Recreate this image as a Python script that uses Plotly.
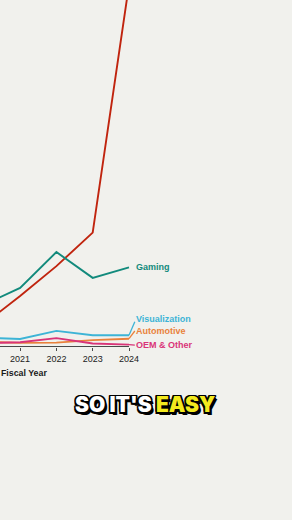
import plotly.graph_objects as go

# ---- data (NVIDIA revenue by market, $B, fiscal years) ----
years = [2020, 2021, 2022, 2023, 2024]
data_center = [2.98, 6.70, 10.61, 15.01, 47.53]
gaming = [5.52, 7.76, 12.46, 9.07, 10.45]
visualization = [1.21, 1.05, 2.11, 1.54, 1.55]
automotive = [0.70, 0.54, 0.57, 0.90, 1.09]
oem_other = [0.51, 0.63, 1.16, 0.46, 0.31]
tick_labels = ["2021", "2022", "2023", "2024"]

series_names = ["Data Center", "Gaming", "Visualization", "Automotive", "OEM & Other"]
series_values = [data_center, gaming, visualization, automotive, oem_other]
series_colors = ["#c0240e", "#128a7c", "#3db4d6", "#e9813c", "#d93478"]

# label placement (style, not data)
label_x = 2024.14
label_y = {"Gaming": 10.5, "Visualization": 3.7, "Automotive": 2.15, "OEM & Other": 0.2}
leader_end = {"Visualization": 3.3, "Automotive": 2.1, "OEM & Other": 0.25}

BG = "#f1f1ed"
W, H = 292, 520
px_per_year = 36.3
x0 = 2024 - 129 / px_per_year
x1 = x0 + W / px_per_year
plot_h = 347
y_top = plot_h / 7.62

fig = go.Figure()
for name, vals, col in zip(series_names, series_values, series_colors):
    fig.add_trace(go.Scatter(x=years, y=vals, mode="lines", name=name,
                             line=dict(color=col, width=1.9), showlegend=False,
                             hoverinfo="skip"))
    if name in leader_end:
        fig.add_trace(go.Scatter(x=[years[-1], label_x + 0.02], y=[vals[-1], leader_end[name]],
                                 mode="lines", line=dict(color=col, width=1.3),
                                 showlegend=False, hoverinfo="skip"))
    if name in label_y:
        fig.add_annotation(x=label_x, y=label_y[name], xref="x", yref="y",
                           text="<b>%s</b>" % name, showarrow=False,
                           xanchor="left", yanchor="middle",
                           font=dict(family="Liberation Sans, Arial, sans-serif", size=9, color=col))

# x axis baseline from left edge to last year
fig.add_shape(type="line", xref="x", yref="y", x0=x0, x1=years[-1], y0=0, y1=0,
              line=dict(color="#4a4a4a", width=1.8), layer="below")

fig.add_annotation(x=-1 / W, y=(plot_h - 373) / plot_h, xref="paper", yref="paper",
                   text="<b>Fiscal Year</b>", showarrow=False, xanchor="left", yanchor="middle",
                   font=dict(family="Liberation Sans, Arial, sans-serif", size=8.8, color="#1a1a1a"))

caption_shadow = ("-1.5px -1.5px 0 #000, 1.5px -1.5px 0 #000, -1.5px 1.5px 0 #000, "
                  "1.5px 1.5px 0 #000, 0 1.5px 0 #000, 0 -1.5px 0 #000, 1.5px 0 0 #000, "
                  "-1.5px 0 0 #000, 2.5px 2.5px 0 #000")
fig.add_annotation(x=145 / W, y=(plot_h - 404) / plot_h, xref="paper", yref="paper",
                   text='SO IT\'S&nbsp;<span style="color:#f3ea1e">EASY</span>',
                   showarrow=False, xanchor="center", yanchor="middle",
                   font=dict(family="Inter, Roboto, DejaVu Sans, sans-serif", size=21,
                             color="#ffffff", weight=900, shadow=caption_shadow))

fig.update_xaxes(range=[x0, x1], tickvals=years[1:], ticktext=tick_labels,
                 showgrid=False, zeroline=False, showline=False,
                 ticks="outside", ticklen=3, tickwidth=1, tickcolor="#4a4a4a",
                 tickfont=dict(family="Liberation Sans, Arial, sans-serif", size=9, color="#222222"),
                 fixedrange=True)
fig.update_yaxes(range=[0, y_top], visible=False, fixedrange=True)

fig.update_layout(width=W, height=H, margin=dict(l=0, r=0, t=0, b=H - plot_h),
                  paper_bgcolor=BG, plot_bgcolor=BG, showlegend=False)

fig.write_html("out.html", config={"displayModeBar": False})
